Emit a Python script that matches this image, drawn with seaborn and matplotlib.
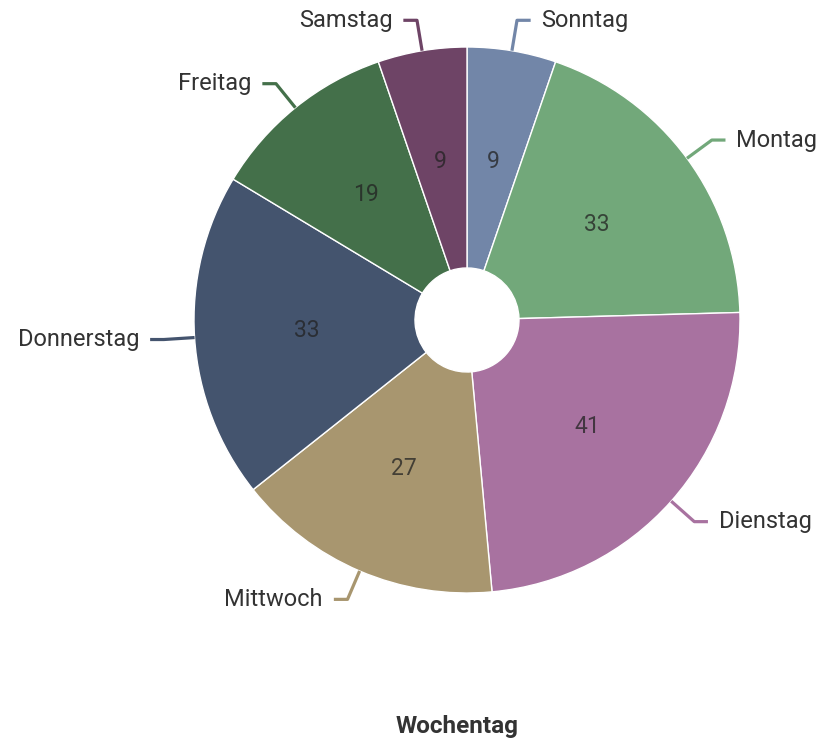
import numpy as np
import matplotlib
matplotlib.use("Agg")
import matplotlib.pyplot as plt
import seaborn as sns

sns.set_theme(style="white")
plt.rcParams['font.family'] = ['Roboto', 'DejaVu Sans']

# Daten
tage = ["Sonntag", "Montag", "Dienstag", "Mittwoch", "Donnerstag", "Freitag", "Samstag"]
werte = [9, 33, 41, 27, 33, 19, 9]
farben = ["#7286a8", "#72a87a", "#a872a0", "#a8966f", "#44546e", "#44704a", "#6e4466"]

fig = plt.figure(figsize=(8.25, 7.41), dpi=100)
ax = fig.add_axes([0, 0, 1, 1])

wedges, _ = ax.pie(
    werte, colors=farben, startangle=90, counterclock=False, radius=1.0,
    wedgeprops=dict(width=1 - 52 / 273, edgecolor="white", linewidth=1),
)

# Werte in den Segmenten und Beschriftungen mit Führungslinien
for w, tag, wert, farbe in zip(wedges, tage, werte, farben):
    ang = np.deg2rad((w.theta1 + w.theta2) / 2)
    cx, cy = np.cos(ang), np.sin(ang)
    ax.text(0.59 * cx, 0.59 * cy, str(wert), ha="center", va="center",
            fontsize=16.5, color="#222222", alpha=0.75)
    x0, y0 = 1.0 * cx, 1.0 * cy
    x1, y1 = 1.113 * cx, 1.113 * cy
    sgn = 1 if cx >= 0 else -1
    x2 = x1 + sgn * 0.05
    ax.plot([x0, x1, x2], [y0, y1, y1], color=farbe, lw=2.3, solid_capstyle="butt")
    ax.text(x2 + sgn * 0.04, y1, tag, ha="left" if sgn > 0 else "right",
            va="center", fontsize=17, color="#333333")

ax.text(-10 / 273, -407 / 273, "Wochentag", ha="center", va="center",
        fontsize=17.5, fontweight="bold", color="#333333")

ax.set_xlim(-467 / 273, 358 / 273)
ax.set_ylim(-421 / 273, 320 / 273)
ax.set_aspect("auto")
ax.axis("off")

fig.savefig("out.png", dpi=100)
